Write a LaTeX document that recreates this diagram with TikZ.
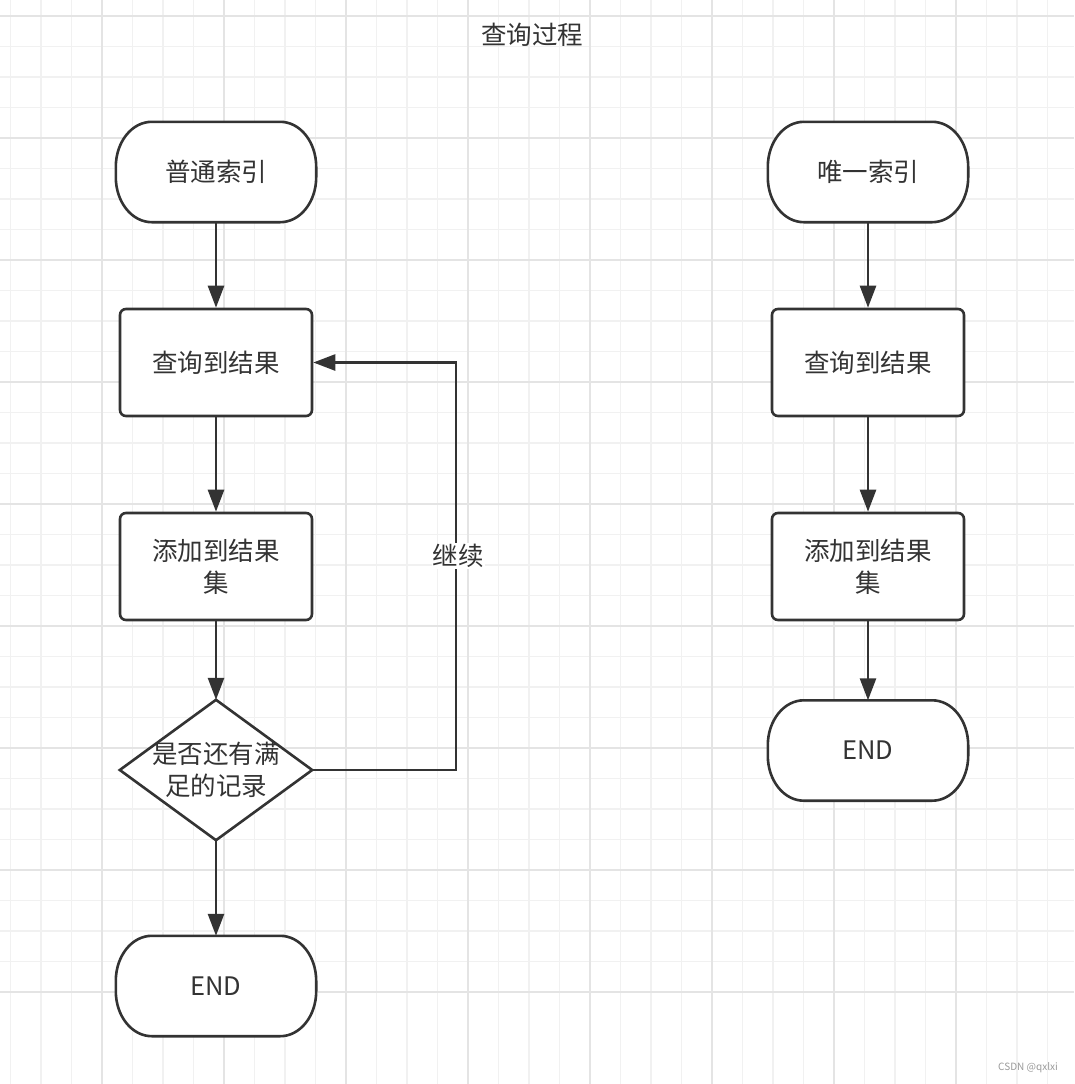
\documentclass[tikz,border=0pt]{standalone}
\usepackage{fontspec}
\setmainfont{Noto Sans CJK SC}
\usetikzlibrary{arrows.meta,backgrounds}
\definecolor{ink}{HTML}{333333}
\definecolor{gminor}{HTML}{F1F1F1}
\definecolor{gmajor}{HTML}{E4E4E4}
\definecolor{wm}{HTML}{9A9A9A}
\tikzset{
  txt/.style={font=\fontsize{25.5}{32}\selectfont, text=ink, align=center},
  term/.style={txt, minimum width=200pt, minimum height=100pt, inner sep=0pt},
  procbox/.style={txt, draw=ink, line width=2.6pt, fill=white, rounded corners=6pt, minimum width=192pt, minimum height=107pt, inner sep=0pt},
  decbox/.style={txt, minimum width=192pt, minimum height=140pt, inner sep=0pt},
  arr/.style={draw=ink, line width=2.6pt, -{Triangle[length=22pt,width=16pt]}},
  flow/.style={draw=ink, line width=2.6pt}
}
\newcommand{\termshape}[1]{%
  \draw[flow, fill=white]
    ([xshift=36pt]#1.north west) -- ([xshift=-36pt]#1.north east)
    arc[start angle=90, end angle=0, x radius=36pt, y radius=45pt]
    -- ([yshift=45pt]#1.south east)
    arc[start angle=0, end angle=-90, x radius=36pt, y radius=45pt]
    -- ([xshift=36pt]#1.south west)
    arc[start angle=270, end angle=180, x radius=36pt, y radius=45pt]
    -- ([yshift=-45pt]#1.north west)
    arc[start angle=180, end angle=90, x radius=36pt, y radius=45pt]
    -- cycle;}
\begin{document}
\begin{tikzpicture}[x=1pt,y=-1pt]
\useasboundingbox (0,0) rectangle (1074,1084);
\begin{scope}[on background layer]
\fill[white] (0,0) rectangle (1074,1084);
\foreach \i in {-3,...,32} {
  \draw[gminor, line width=1.6pt] ({102+30.5*\i},0) -- ({102+30.5*\i},1084);
  \draw[gminor, line width=1.6pt] (0,{16+30.5*\i}) -- (1074,{16+30.5*\i});
}
\foreach \i in {-1,...,8} {
  \draw[gmajor, line width=1.8pt] ({102+122*\i},0) -- ({102+122*\i},1084);
  \draw[gmajor, line width=1.8pt] (0,{16+122*\i}) -- (1074,{16+122*\i});
}
\end{scope}
% title
\node[txt] (title) at (532,35) {查询过程};
% left column
\node[term] (s1) at (216,172) {普通索引};
\node[procbox] (q1) at (216,362.5) {查询到结果};
\node[procbox] (a1) at (216,566.5) {添加到结果\\集};
\node[decbox] (d1) at (216,770) {是否还有满\\足的记录};
\node[term] (e1) at (216,986) {END};
% right column
\node[term] (s2) at (868,172) {唯一索引};
\node[procbox] (q2) at (868,362.5) {查询到结果};
\node[procbox] (a2) at (868,566.5) {添加到结果\\集};
\node[term] (e2) at (868,750.5) {END};
\begin{scope}[on background layer]
\termshape{s1}
\termshape{e1}
\termshape{s2}
\termshape{e2}
\draw[flow, fill=white, line join=miter] (d1.north) -- (d1.east) -- (d1.south) -- (d1.west) -- cycle;
\end{scope}
\draw[arr] (s1) -- (q1);
\draw[arr] (q1) -- (a1);
\draw[arr] (a1) -- (d1.north);
\draw[arr] (d1.south) -- (e1);
\coordinate (loopc) at (456,770);
\draw[arr, line join=miter] (d1.east) -- (loopc) |- (q1.east);
\node[txt, fill=white, inner sep=1pt] (lbl) at (458,556) {继续};
\draw[arr] (s2) -- (q2);
\draw[arr] (q2) -- (a2);
\draw[arr] (a2) -- (e2);
% watermark
\node[font=\fontsize{10}{12}\selectfont, text=wm] (wmk) at (1028,1068) {CSDN @qxlxi};
\end{tikzpicture}
\end{document}
